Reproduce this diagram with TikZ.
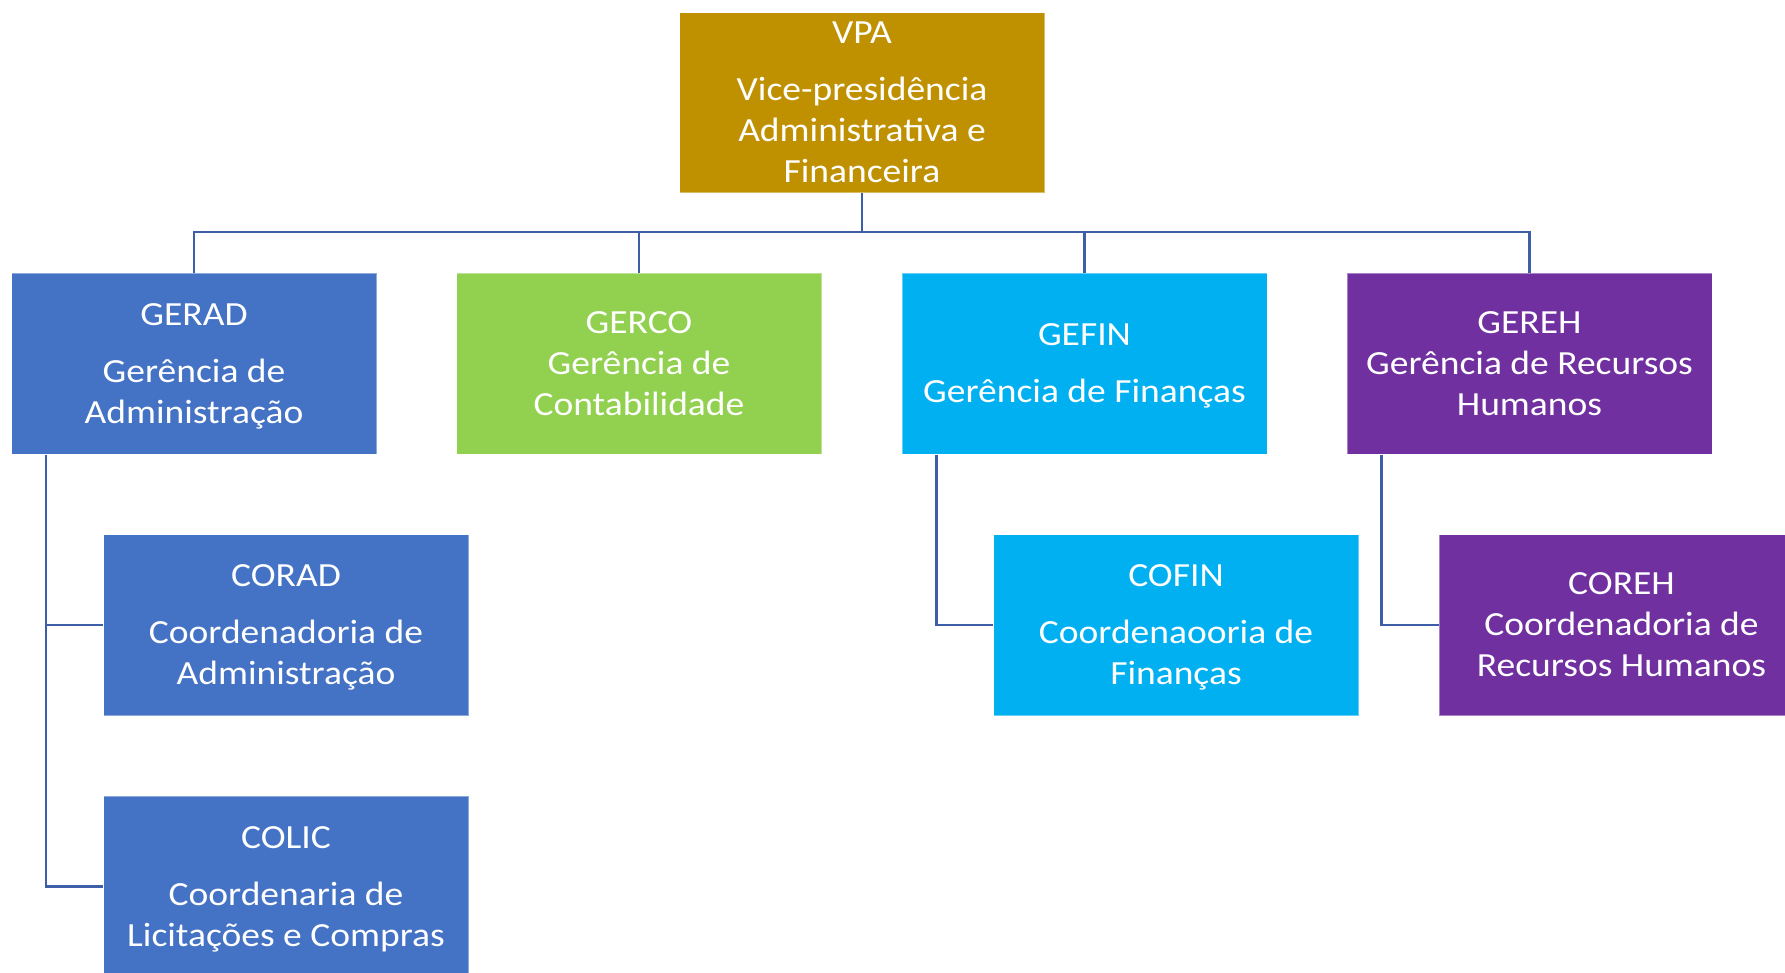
\documentclass[tikz,border=0pt]{standalone}
\usepackage{fontspec}
\setmainfont{Carlito}[FakeStretch=1.11]
\usetikzlibrary{calc}
\definecolor{vpagold}{HTML}{BF9000}
\definecolor{admblue}{HTML}{4472C4}
\definecolor{contgreen}{HTML}{92D050}
\definecolor{fincyan}{HTML}{00B0F0}
\definecolor{rhpurple}{HTML}{7030A0}
\definecolor{linkblue}{RGB}{62,94,168}
\begin{document}
\begin{tikzpicture}[x=1pt, y=-1pt,
            unit/.style = {rectangle, fill=#1,
                        draw=white, draw opacity=0.4, line width=1pt,
                        minimum width = 365pt, minimum height = 181pt,
                        inner sep = 0pt, text = white, align = center,
                        font = \fontsize{33.8}{41}\selectfont},
            link/.style = {draw=linkblue, line width=2.8pt}]
            \useasboundingbox (0,0) rectangle (1785,972);
            \clip (0,0) rectangle (1785,972);
            % Vice-presidencia
            \node[unit=vpagold, minimum height=180pt] (vpa) at (862,102.5)
                {VPA\\[16pt]Vice-presidência\\Administrativa e\\Financeira};
            % Gerencias
            \node[unit=admblue] (gerad) at (194,363.5)
                {GERAD\\[16pt]Gerência de\\\smash{Administração}};
            \node[unit=contgreen] (gerco) at (639,363.5)
                {GERCO\\Gerência de\\Contabilidade};
            \node[unit=fincyan] (gefin) at (1084.5,363.5)
                {GEFIN\\[16pt]\smash{Gerência de Finanças}};
            \node[unit=rhpurple] (gereh) at (1529.5,363.5)
                {GEREH\\Gerência de Recursos\\Humanos};
            % Coordenadorias
            \node[unit=admblue] (corad) at (286,625)
                {CORAD\\[16pt]Coordenadoria de\\\smash{Administração}};
            \node[unit=admblue] (colic) at (286,886.5)
                {COLIC\\[16pt]Coordenaria de\\\smash{Licitações e Compras}};
            \node[unit=fincyan] (cofin) at (1176,625)
                {COFIN\\[16pt]Coordenaooria de\\\smash{Finanças}};
            \node[unit=rhpurple] (coreh) at (1621.5,625)
                {COREH\\Coordenadoria de\\Recursos Humanos};
            % Connectors
            \coordinate (bus) at (862,232);
            \draw[link] (vpa.south) -- (bus);
            \draw[link] (bus) -| (gerad.north);
            \draw[link] (bus) -| (gerco.north);
            \draw[link] (bus) -| (gefin.north);
            \draw[link] (bus) -| (gereh.north);
            \draw[link] ($(gerad.south west)+(35,0)$) |- (corad.west);
            \draw[link] ($(gerad.south west)+(35,0)$) |- (colic.west);
            \draw[link] ($(gefin.south west)+(35,0)$) |- (cofin.west);
            \draw[link] ($(gereh.south west)+(35,0)$) |- (coreh.west);
        \end{tikzpicture}
\end{document}
